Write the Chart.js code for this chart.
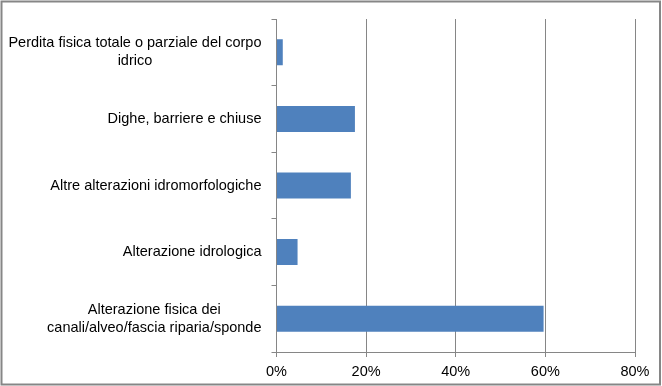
<!DOCTYPE html>
<html>
<head>
<meta charset="utf-8">
<script src="https://cdn.jsdelivr.net/npm/chart.js@4"></script>
<style>
  body { margin: 0; background: #fff; }
  #wrap { width: 662px; height: 386px; }
</style>
</head>
<body>
<div id="wrap"><canvas id="chart" width="662" height="386"></canvas></div>
<script>
// Categories (top to bottom), multi-line as in the original
const categories = [
  ["Perdita fisica totale o parziale del corpo", "idrico"],
  ["Dighe, barriere e chiuse"],
  ["Altre alterazioni idromorfologiche"],
  ["Alterazione idrologica"],
  ["Alterazione fisica dei", "canali/alveo/fascia riparia/sponde"]
];
const values = [1.4, 17.5, 16.6, 4.7, 59.6]; // percent
const xTicks = [0, 20, 40, 60, 80];

const axisGray = "#868686";
const fontFamily = "'Liberation Sans', Arial, sans-serif";
const labelFont = "14.5px " + fontFamily;

// white background + outer frame
const framePlugin = {
  id: "frame",
  beforeDraw(c) {
    const g = c.ctx;
    g.save();
    g.fillStyle = "#fff";
    g.fillRect(0, 0, c.width, c.height);
    g.strokeStyle = axisGray;
    g.lineWidth = 2;
    g.strokeRect(1.5, 1.5, c.width - 3.5, c.height - 3);
    g.restore();
  }
};

// category labels: block right-aligned to the axis, lines centred inside block
const catLabels = {
  id: "catLabels",
  afterDraw(c) {
    const g = c.ctx;
    const y = c.scales.y;
    const right = y.right - 5 - 10;
    const lh = 18;
    g.save();
    g.font = labelFont;
    g.fillStyle = "#000";
    g.textBaseline = "middle";
    g.textAlign = "center";
    categories.forEach((lines, i) => {
      const cy = y.getPixelForTick(i);
      const w = Math.max(...lines.map(l => g.measureText(l).width));
      const cx = right - w / 2;
      const top = cy - (lines.length - 1) * lh / 2;
      lines.forEach((l, j) => g.fillText(l, cx, top + j * lh));
    });
    g.restore();
  }
};

new Chart(document.getElementById("chart"), {
  type: "bar",
  data: {
    labels: categories.map(l => l.join(" ")),
    datasets: [{
      data: values,
      backgroundColor: "#4F81BD",
      barPercentage: 0.39,
      categoryPercentage: 1
    }]
  },
  options: {
    indexAxis: "y",
    responsive: false,
    animation: false,
    layout: { padding: { top: 19, right: 27, bottom: 8, left: 6 } },
    plugins: { legend: { display: false }, tooltip: { enabled: false } },
    scales: {
      x: {
        min: 0,
        max: 80,
        afterBuildTicks: s => { s.ticks = xTicks.map(v => ({ value: v })); },
        afterFit: s => { s.height = 26; },
        ticks: {
          callback: v => v + "%",
          color: "#000",
          font: { family: fontFamily, size: 14.5 },
          padding: 6,
          maxRotation: 0
        },
        grid: { color: axisGray, lineWidth: 1, drawTicks: true, tickLength: 5 },
        border: { color: axisGray, width: 1 }
      },
      y: {
        afterFit: s => { s.width = 270.5; },
        ticks: { display: false },
        grid: { offset: true, drawOnChartArea: false, drawTicks: true, tickLength: 5, color: axisGray },
        border: { color: axisGray, width: 1 }
      }
    }
  },
  plugins: [framePlugin, catLabels]
});
</script>
</body>
</html>
